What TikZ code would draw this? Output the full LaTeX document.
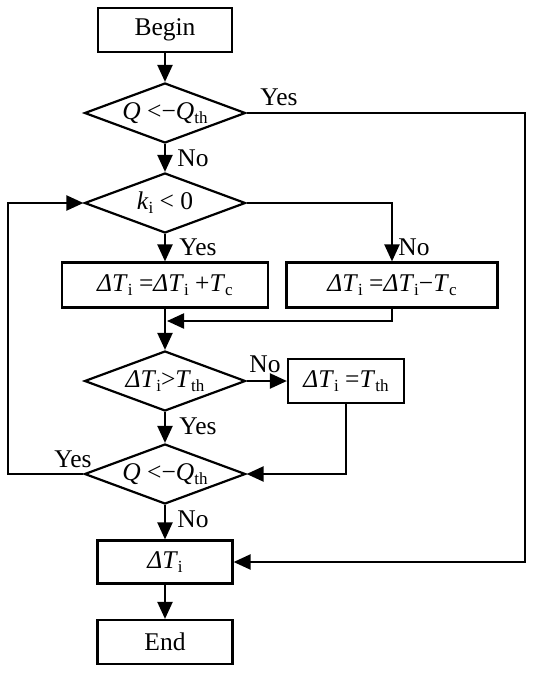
\documentclass[tikz,border=0pt]{standalone}
\usepackage{fontspec}
\setmainfont{Liberation Serif}
\usetikzlibrary{shapes.geometric,arrows.meta}
\newcommand{\lsub}[1]{\raisebox{-0.35ex}{\fontsize{17}{17}\selectfont #1}}
\begin{document}
\begin{tikzpicture}[x=1pt,y=-1pt, line width=2.2pt, font=\fontsize{25.5}{27}\selectfont,
 box/.style={draw, rectangle, inner sep=0pt},
 dec/.style={draw, diamond, inner sep=0pt, aspect=2.7, minimum width=161pt, minimum height=60pt},
 arr/.style={-{Triangle[length=17pt,width=15pt]}},
 lbl/.style={inner sep=0pt}]
\useasboundingbox (0,0) rectangle (550,673);
\node[box, minimum width=134pt, minimum height=44pt] (begin) at (165,30) {Begin};
\node[dec] (d1) at (165,113) {\textit{Q}~<−\textit{Q}\lsub{th}};
\node[dec] (d2) at (165,203) {\textit{k}\lsub{i} < 0};
\node[box, minimum width=206pt, minimum height=45pt] (lbox) at (165,285) {\textit{ΔT}\lsub{i} =\textit{ΔT}\lsub{i} +\textit{T}\lsub{c}};
\node[box, minimum width=211pt, minimum height=45pt] (rbox) at (392,285) {\textit{ΔT}\lsub{i} =\textit{ΔT}\lsub{i}−\textit{T}\lsub{c}};
\node[dec] (d3) at (165,381) {\textit{ΔT}\lsub{i}>\textit{T}\lsub{th}};
\node[box, minimum width=116pt, minimum height=44pt] (tbox) at (346,381) {\textit{ΔT}\lsub{i} =\textit{T}\lsub{th}};
\node[dec] (d4) at (165,474) {\textit{Q}~<−\textit{Q}\lsub{th}};
\node[box, minimum width=135pt, minimum height=43pt] (out) at (165,562) {\textit{ΔT}\lsub{i}};
\node[box, minimum width=135pt, minimum height=44pt] (end) at (165,642) {End};

\coordinate (c1) at (525,113);
\coordinate (m) at (167,321);
\coordinate (c4) at (8,474);

\draw[arr] (begin) -- (d1);
\draw[arr] (d1.east) -- (c1) |- (out.east);
\draw[arr] (d1.south) -- (d2.north);
\draw[arr] (d2.east) -| (rbox.north);
\draw[arr] (d2.south) -- (lbox.north);
\draw[arr] (lbox.south) -- (d3.north);
\draw[arr] (rbox.south) |- (m);
\draw[arr] (d3.east) -- (tbox.west);
\draw[arr] (tbox.south) |- (d4.east);
\draw[arr] (d3.south) -- (d4.north);
\draw[arr] (d4.west) -- (c4) |- (d2.west);
\draw[arr] (d4.south) -- (out.north);
\draw[arr] (out.south) -- (end.north);

\node[lbl] (y1) at (279,97) {Yes};
\node[lbl] (n1) at (193,158) {No};
\node[lbl] (y2) at (198,247) {Yes};
\node[lbl] (n2) at (414,247) {No};
\node[lbl] (n3) at (265,364) {No};
\node[lbl] (y3) at (198,426) {Yes};
\node[lbl] (y4) at (73,459) {Yes};
\node[lbl] (n4) at (193,519) {No};
\end{tikzpicture}
\end{document}
